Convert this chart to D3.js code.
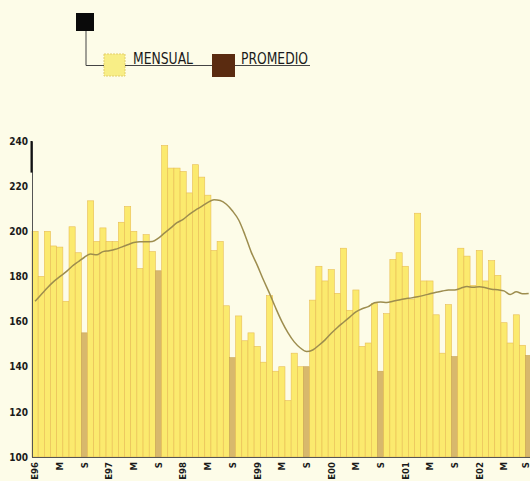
<!DOCTYPE html>
<html>
<head>
<meta charset="utf-8">
<script src="https://cdn.jsdelivr.net/npm/d3@7"></script>
<style>
  body{margin:0;background:#fdfce8;}
  svg{display:block;}
  text{font-family:"Liberation Sans Narrow","DejaVu Sans Condensed",sans-serif;}
</style>
</head>
<body>
<div id="chart"></div>
<script>
/* mensual vs promedio, ene 1996 - sep 2002 */

// monthly values, Jan 1996 .. Sep 2002
var mensual = [
  200, 180, 200, 193.5, 193, 169, 202, 190.5, 155, 213.5, 195.5, 201.5,
  195.5, 195.5, 204, 211, 200, 183.5, 198.5, 191, 182.5, 238, 228, 228,
  226.5, 217, 229.5, 224, 216, 191.5, 195.5, 167, 144, 162.5, 151.5, 155,
  149, 142, 171.5, 138, 140, 125, 146, 140, 140, 169.5, 184.5, 178,
  183, 172.5, 192.5, 165, 174, 149, 150.5, 168, 138, 163.5, 187.5, 190.5,
  184.5, 170, 208, 178, 178, 163, 146, 167.5, 144.5, 192.5, 189, 176,
  191.5, 178, 187, 180.5, 159.5, 150.5, 163, 149.5, 145
];
// smoothed average line
var promedio = [
  169, 172, 175, 177.7, 179.9, 182, 184.5, 186.5, 188.5, 189.9, 189.6, 191,
  191.4, 192, 193, 194, 195, 195.4, 195.4, 195.5, 197, 199.3, 201.5, 203.8,
  205.3, 207.5, 209.4, 211, 212.8, 214, 213.6, 212, 209, 205, 198.5, 191,
  185, 178.5, 172.5, 166, 160, 155, 151, 148.3, 146.7, 147.4, 149.5, 151.9,
  154.8, 157.4, 159.7, 162, 164.3, 165.7, 166.6, 168.3, 168.7, 168.4, 169, 169.6,
  170.1, 170.5, 171, 171.6, 172.3, 173, 173.5, 174, 174, 174.8, 175.5, 175.2,
  175.4, 175, 174.3, 174.1, 173.6, 172, 173.2, 172.3, 172.4
];
var yTicks = [100, 120, 140, 160, 180, 200, 220, 240];
var xTickIdx = [0, 4, 8, 12, 16, 20, 24, 28, 32, 36, 40, 44, 48, 52, 56, 60, 64, 68, 72, 76, 80];
var xTickLabels = ["E96","M","S","E97","M","S","E98","M","S","E99","M","S",
                   "E00","M","S","E01","M","S","E02","M","S"];

var W = 530, H = 481;
var x0 = 32, barStep = 6.17;

var svg = d3.select("#chart").append("svg")
  .attr("width", W).attr("height", H);

svg.append("rect").attr("width", W).attr("height", H).attr("fill", "#fdfce8");

var idx = d3.range(mensual.length);
var xScale = d3.scaleBand().domain(idx)
  .range([x0, x0 + barStep * mensual.length]).padding(0);
var yScale = d3.scaleLinear().domain([100, 240]).range([457, 141]);

// bars (september bars darker)
svg.append("g").selectAll("rect")
  .data(mensual).enter()
  .append("rect")
  .attr("x", function(d, i){ return xScale(i); })
  .attr("y", function(d){ return yScale(d); })
  .attr("width", xScale.bandwidth())
  .attr("height", function(d){ return yScale(100) - yScale(d); })
  .attr("fill", function(d, i){ return i % 12 == 8 ? "#d8b86c" : "#fbea6e"; })
  .attr("stroke", function(d, i){ return i % 12 == 8 ? "#c9a452" : "#e8bd55"; })
  .attr("stroke-width", 0.6);

// average line
var line = d3.line()
  .x(function(d, i){ return xScale(i) + xScale.bandwidth() / 2; })
  .y(function(d){ return yScale(d); })
  .curve(d3.curveMonotoneX);

svg.append("path")
  .datum(promedio)
  .attr("d", line)
  .attr("fill", "none")
  .attr("stroke", "#9d8d4e")
  .attr("stroke-width", 1.5);

// y axis
var yAxis = svg.append("g")
  .attr("transform", "translate(" + x0 + ",0)")
  .call(d3.axisLeft(yScale).tickValues(yTicks).tickSize(0).tickPadding(4));
yAxis.select(".domain").attr("stroke", "#555").attr("stroke-width", 1);
yAxis.selectAll("text")
  .style("font-family", '"Liberation Sans Narrow","DejaVu Sans Condensed",sans-serif')
  .style("font-size", "10px").style("font-weight", "bold").attr("fill", "#1a1a1a");
// heavier top stub of the axis
yAxis.append("line")
  .attr("x1", -0.5).attr("x2", -0.5)
  .attr("y1", yScale(240)).attr("y2", yScale(226))
  .attr("stroke", "#111").attr("stroke-width", 2);

// x axis
var xAxis = svg.append("g")
  .attr("transform", "translate(0,457)")
  .call(d3.axisBottom(xScale).tickValues(xTickIdx).tickSize(0)
    .tickFormat(function(d){ return xTickLabels[xTickIdx.indexOf(d)]; }));
xAxis.select(".domain").attr("stroke", "#555").attr("stroke-width", 1)
  .attr("d", "M" + x0 + ",0.5H" + W);
xAxis.selectAll("text")
  .attr("transform", "rotate(-90)")
  .attr("x", -5).attr("y", 0)
  .attr("dy", function(d){ return d == 80 ? "0.05em" : "0.35em"; }) // keep the last one inside the frame
  .style("text-anchor", "end")
  .style("font-family", '"Liberation Sans Narrow","DejaVu Sans Condensed",sans-serif')
  .style("font-size", "9.5px").style("font-weight", "bold").attr("fill", "#1a1a1a");

// legend
var lg = svg.append("g");
lg.append("path")
  .attr("d", "M86,30V65.5H310")
  .attr("fill", "none").attr("stroke", "#444").attr("stroke-width", 1);
lg.append("rect").attr("x", 76).attr("y", 13).attr("width", 18).attr("height", 18)
  .attr("fill", "#0a0a0a");
lg.append("rect").attr("x", 104).attr("y", 54).attr("width", 21).attr("height", 22)
  .attr("fill", "#f8ee86").attr("stroke", "#e3cf6a").attr("stroke-width", 1)
  .attr("stroke-dasharray", "2,1");
lg.append("rect").attr("x", 212).attr("y", 54).attr("width", 23).attr("height", 23)
  .attr("fill", "#5a2b10");
lg.append("text").attr("x", 133).attr("y", 64).text("MENSUAL")
  .attr("font-size", 15).attr("fill", "#1a1a1a")
  .attr("textLength", 60).attr("lengthAdjust", "spacingAndGlyphs");
lg.append("text").attr("x", 241).attr("y", 64).text("PROMEDIO")
  .attr("font-size", 15).attr("fill", "#1a1a1a")
  .attr("textLength", 67).attr("lengthAdjust", "spacingAndGlyphs");
</script>
</body>
</html>
